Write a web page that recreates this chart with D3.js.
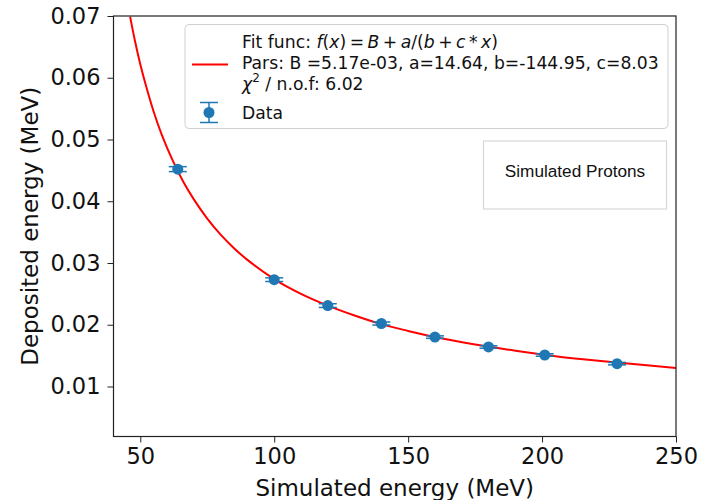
<!DOCTYPE html>
<html><head><meta charset="utf-8">
<script src="https://cdn.jsdelivr.net/npm/d3@7"></script>
<style>body{margin:0;background:#fff}svg{display:block}</style>
</head><body>
<script>
// Data points
const energies = [64, 100, 120, 140, 160, 180, 201, 228];
const deposited = [0.0452, 0.0273, 0.0231, 0.0202, 0.0180, 0.0164, 0.0151, 0.0137];
const depositedErr = [0.0004, 0.0003, 0.0003, 0.00025, 0.0002, 0.0002, 0.0002, 0.0002];
// Fit curve samples
const fitX = [46.2, 48, 50, 52, 55, 58, 62, 66, 70, 75, 80, 85, 90, 100, 110, 120, 130, 140, 150, 160, 175, 190, 205, 220, 235, 250];
const fitY = [0.0699, 0.0660, 0.0622, 0.0589, 0.0545, 0.0508, 0.0467, 0.0432, 0.0403, 0.0372, 0.0346, 0.0324, 0.0305, 0.0274, 0.0250, 0.0231, 0.0215, 0.0201, 0.0190, 0.0180, 0.0168, 0.0158, 0.0149, 0.0142, 0.0136, 0.0130];
const xTicks = [50, 100, 150, 200, 250];
const yTicks = [0.01, 0.02, 0.03, 0.04, 0.05, 0.06, 0.07];
const xLabel = "Simulated energy (MeV)";
const yLabel = "Deposited energy (MeV)";
const parsText = "Pars: B =5.17e-03, a=14.64, b=-144.95, c=8.03";
const chiValue = "6.02";
const boxText = "Simulated Protons";

const W = 706, H = 500;
const m = {left: 113.5, right: 676, top: 16, bottom: 436.5};
const svg = d3.select("body").append("svg").attr("width", W).attr("height", H)
  .style("font-family", "'DejaVu Sans', sans-serif");

const x = d3.scaleLinear().domain([40, 250]).range([m.left, m.right]);
const y = d3.scaleLinear().domain([0.0019, 0.07]).range([m.bottom, m.top]);

svg.append("defs").append("clipPath").attr("id", "clip")
  .append("rect").attr("x", m.left).attr("y", m.top).attr("width", m.right - m.left).attr("height", m.bottom - m.top);

// Fit curve
const line = d3.line().x(d => x(d[0])).y(d => y(d[1])).curve(d3.curveCatmullRom.alpha(0.5));
svg.append("path").datum(fitX.map((v, i) => [v, fitY[i]]))
  .attr("clip-path", "url(#clip)")
  .attr("d", line).attr("fill", "none").attr("stroke", "#ff0000").attr("stroke-width", 2);

// Data with error bars
const blue = "#1f77b4";
const g = svg.append("g");
energies.forEach((e, i) => {
  const cx = x(e), y1 = y(deposited[i] + depositedErr[i]), y2 = y(deposited[i] - depositedErr[i]);
  g.append("line").attr("x1", cx).attr("x2", cx).attr("y1", y1).attr("y2", y2).attr("stroke", blue).attr("stroke-width", 1.5);
  [y1, y2].forEach(yy => g.append("line").attr("x1", cx - 9).attr("x2", cx + 9).attr("y1", yy).attr("y2", yy).attr("stroke", blue).attr("stroke-width", 1.5));
  g.append("circle").attr("cx", cx).attr("cy", y(deposited[i])).attr("r", 5.5).attr("fill", blue);
});

// Axes
const xAxis = svg.append("g").attr("transform", `translate(0,${m.bottom})`)
  .call(d3.axisBottom(x).tickValues(xTicks).tickSize(6).tickPadding(6).tickFormat(d3.format("d")));
const yAxis = svg.append("g").attr("transform", `translate(${m.left},0)`)
  .call(d3.axisLeft(y).tickValues(yTicks).tickSize(6).tickPadding(7).tickFormat(d3.format(".2f")));
[xAxis, yAxis].forEach(a => {
  a.select(".domain").remove();
  a.selectAll("line").attr("stroke", "#222").attr("stroke-width", 1);
  a.selectAll("text").attr("font-family", "'DejaVu Sans', sans-serif").attr("font-size", 22.5).attr("fill", "#111");
});
// Frame
svg.append("rect").attr("x", m.left).attr("y", m.top).attr("width", m.right - m.left).attr("height", m.bottom - m.top)
  .attr("fill", "none").attr("stroke", "#222").attr("stroke-width", 1.2);

// Axis labels
svg.append("text").attr("x", (m.left + m.right) / 2).attr("y", 496).attr("text-anchor", "middle")
  .attr("font-size", 23).attr("fill", "#111").text(xLabel);
svg.append("text").attr("transform", `translate(38,${(m.top + m.bottom) / 2}) rotate(-90)`).attr("text-anchor", "middle")
  .attr("font-size", 23).attr("fill", "#111").text(yLabel);

// Legend
const lg = svg.append("g");
lg.append("rect").attr("x", 185).attr("y", 24.5).attr("width", 483).attr("height", 104).attr("rx", 4)
  .attr("fill", "#fff").attr("fill-opacity", 0.85).attr("stroke", "#d0d0d0").attr("stroke-width", 1);
lg.append("line").attr("x1", 192).attr("x2", 228).attr("y1", 64.5).attr("y2", 64.5).attr("stroke", "#ff0000").attr("stroke-width", 2);
const tx = 242, fs = 17.2, sp = "\u2009";
const t1 = lg.append("text").attr("x", tx).attr("y", 47.5).attr("font-size", fs).attr("fill", "#111")
  .attr("textLength", 256).attr("lengthAdjust", "spacing");
t1.append("tspan").text("Fit func: ");
t1.append("tspan").attr("font-style", "italic").text("f");
t1.append("tspan").text("(");
t1.append("tspan").attr("font-style", "italic").text("x");
t1.append("tspan").text(")" + sp + "=" + sp);
t1.append("tspan").attr("font-style", "italic").text("B");
t1.append("tspan").text(sp + "+" + sp);
t1.append("tspan").attr("font-style", "italic").text("a");
t1.append("tspan").text("/(");
t1.append("tspan").attr("font-style", "italic").text("b");
t1.append("tspan").text(sp + "+" + sp);
t1.append("tspan").attr("font-style", "italic").text("c");
t1.append("tspan").text(sp + "*" + sp);
t1.append("tspan").attr("font-style", "italic").text("x");
t1.append("tspan").text(")");
lg.append("text").attr("x", tx).attr("y", 68.5).attr("font-size", fs).attr("fill", "#111").text(parsText);
const t3 = lg.append("text").attr("x", tx).attr("y", 90).attr("font-size", fs).attr("fill", "#111");
t3.append("tspan").attr("font-style", "italic").text("χ");
t3.append("tspan").attr("font-size", 12).attr("dy", -8).text("2");
t3.append("tspan").attr("dy", 8).text(" / n.o.f: " + chiValue);
lg.append("text").attr("x", tx).attr("y", 119).attr("font-size", fs).attr("fill", "#111").text("Data");
const ly = 112.5, lx = 209;
lg.append("line").attr("x1", lx).attr("x2", lx).attr("y1", ly - 10).attr("y2", ly + 10).attr("stroke", blue).attr("stroke-width", 1.5);
[ly - 10, ly + 10].forEach(yy => lg.append("line").attr("x1", lx - 9).attr("x2", lx + 9).attr("y1", yy).attr("y2", yy).attr("stroke", blue).attr("stroke-width", 1.5));
lg.append("circle").attr("cx", lx).attr("cy", ly).attr("r", 5.5).attr("fill", blue);

// Annotation box
svg.append("rect").attr("x", 483.5).attr("y", 141).attr("width", 183).attr("height", 68)
  .attr("fill", "#fff").attr("stroke", "#d8d8d8").attr("stroke-width", 1.2);
svg.append("text").attr("x", 575).attr("y", 177).attr("text-anchor", "middle")
  .attr("font-family", "'Liberation Sans', Arial, sans-serif").attr("font-size", 17.2).attr("fill", "#111").text(boxText);
</script>
</body></html>
